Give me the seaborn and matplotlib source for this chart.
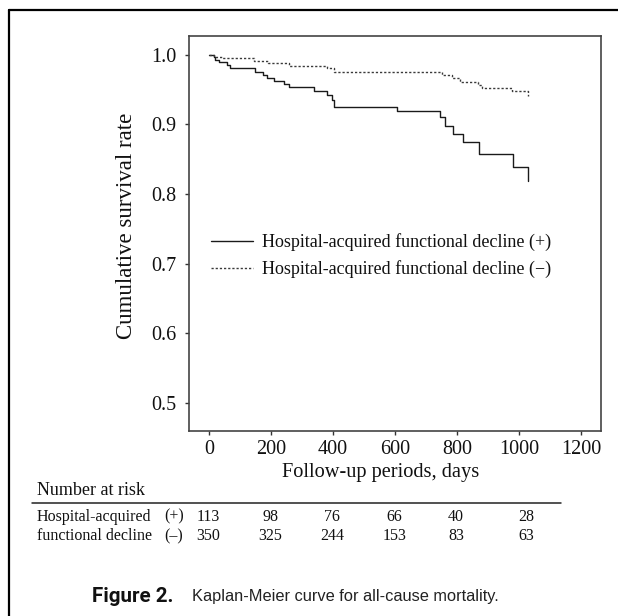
import numpy as np
import pandas as pd
import matplotlib
matplotlib.use("Agg")
import matplotlib.pyplot as plt
from matplotlib.lines import Line2D
import seaborn as sns

# ---------------- data ----------------
group_labels = ["Hospital-acquired functional decline (+)",
                "Hospital-acquired functional decline (\u2212)"]

days_pos = [0, 14, 19, 30, 57, 68, 148, 175, 188, 210, 242, 256, 337, 380, 396,
            403, 605, 745, 761, 786, 820, 872, 980, 1030]
surv_pos = [1.0, 0.997, 0.992, 0.989, 0.985, 0.980, 0.9756, 0.971, 0.967, 0.962,
            0.9575, 0.953, 0.948, 0.942, 0.935, 0.9245, 0.919, 0.910, 0.898,
            0.886, 0.874, 0.858, 0.838, 0.818]

days_neg = [0, 14, 41, 143, 191, 256, 380, 403, 751, 783, 810, 869, 880, 976, 1030]
surv_neg = [1.0, 0.997, 0.995, 0.991, 0.9877, 0.984, 0.980, 0.9756, 0.971, 0.966,
            0.961, 0.9565, 0.9527, 0.947, 0.940]

x_ticks = [0, 200, 400, 600, 800, 1000, 1200]
y_ticks = [0.5, 0.6, 0.7, 0.8, 0.9, 1.0]

risk_times = [0, 200, 400, 600, 800, 1000]
risk_pos = [113, 98, 76, 66, 40, 28]
risk_neg = [350, 325, 244, 153, 83, 63]
risk_row_labels = ["Hospital-acquired", "functional decline"]
risk_row_signs = ["(+)", "(\u2013)"]

# ---------------- style ----------------
sns.set_style("ticks")
plt.rcParams["font.family"] = ["Liberation Serif", "DejaVu Serif"]
plt.rcParams["mathtext.fontset"] = "stix"

W, H = 618, 616
fig = plt.figure(figsize=(W / 100, H / 100), dpi=100)
fig.patch.set_facecolor("white")

def fx(px):
    return px / W

def fy(py):
    return 1 - py / H

ax_l, ax_r, ax_t, ax_b = 188.5, 601, 35.7, 431
ax = fig.add_axes([fx(ax_l), fy(ax_b), fx(ax_r - ax_l), (ax_b - ax_t) / H])

df = pd.concat([
    pd.DataFrame({"day": days_pos, "surv": surv_pos, "group": group_labels[0]}),
    pd.DataFrame({"day": days_neg, "surv": surv_neg, "group": group_labels[1]}),
], ignore_index=True)

sns.lineplot(data=df, x="day", y="surv", hue="group", style="group",
             palette=["#1a1a1a", "#3a3a3a"],
             dashes={group_labels[0]: "", group_labels[1]: (1.6, 1.4)},
             drawstyle="steps-post", estimator=None, sort=False,
             linewidth=1.0, ax=ax, legend=False)

ax.set_xlim(-67, 1265)
ax.set_ylim(0.46, 1.027)
ax.set_xticks(x_ticks)
ax.set_yticks(y_ticks)
ax.set_xticklabels([str(v) for v in x_ticks])
ax.set_yticklabels([f"{v:.1f}" for v in y_ticks])
ax.tick_params(axis="both", direction="out", length=3.2, width=1.0,
               color="#333333", labelsize=14.5, labelcolor="#111111")
ax.tick_params(axis="y", pad=5.8)
ax.tick_params(axis="x", pad=3.5)
for sp in ax.spines.values():
    sp.set_visible(True)
    sp.set_color("#444444")
    sp.set_linewidth(1.2)

ax.set_xlabel("Follow-up periods, days", fontsize=14.7, color="#111111")
ax.xaxis.label.set_va("center")
ax.xaxis.set_label_coords((381 - ax_l) / (ax_r - ax_l), (ax_b - 473) / (ax_b - ax_t))
ax.set_ylabel("Cumulative survival rate", fontsize=16.5, color="#111111")
ax.yaxis.label.set_va("center")
ax.yaxis.set_label_coords((126.7 - ax_l) / (ax_r - ax_l), (ax_b - 225.8) / (ax_b - ax_t))

handles = [Line2D([], [], color="#1a1a1a", linewidth=1.0, linestyle="-"),
           Line2D([], [], color="#3a3a3a", linewidth=1.0, linestyle=(0, (1.6, 1.4)))]
leg = ax.legend(handles, group_labels, loc="center left",
                bbox_to_anchor=((210.7 - ax_l) / (ax_r - ax_l), (ax_b - 255.5) / (ax_b - ax_t)),
                frameon=False, fontsize=13, handlelength=2.35, handletextpad=0.5,
                labelspacing=0.5, borderpad=0, borderaxespad=0)
for t in leg.get_texts():
    t.set_color("#111111")

# ---------------- risk table ----------------
fig.text(fx(36.7), fy(490.5), "Number at risk", fontsize=13, ha="left", va="center",
         color="#111111")
fig.add_artist(Line2D([fx(31.7), fx(561)], [fy(502.5), fy(502.5)],
                      transform=fig.transFigure, color="#222222", linewidth=1.1))
row_y = [516.7, 536.3]
for r, (lab, sign, vals) in enumerate(zip(risk_row_labels, risk_row_signs,
                                          [risk_pos, risk_neg])):
    fig.text(fx(36.7), fy(row_y[r]), lab, fontsize=11.5, ha="left", va="center",
             color="#111111")
    fig.text(fx(164), fy(row_y[r]), sign, fontsize=11.5, ha="left", va="center",
             color="#111111")
    for t, v in zip(risk_times, vals):
        xd = t if t < 1000 else 1026
        xpix = ax.transData.transform((xd, 0.5))[0]
        fig.text(xpix / W - 0.0015, fy(row_y[r]), str(v), fontsize=11.5,
                 ha="center", va="center", color="#111111")

# ---------------- caption & frame ----------------
fig.text(fx(91.7), fy(596.5), "Figure 2.", fontsize=14.8, fontweight="bold",
         family=["Liberation Sans Narrow", "Roboto", "DejaVu Sans"],
         ha="left", va="center", color="#111111")
fig.text(fx(192), fy(596.5), "Kaplan-Meier curve for all-cause mortality.",
         fontsize=11.8, family=["Liberation Sans", "DejaVu Sans"],
         ha="left", va="center", color="#222222")

fig.add_artist(Line2D([fx(8.5), fx(618)], [fy(10), fy(10)],
                      transform=fig.transFigure, color="black", linewidth=1.6))
fig.add_artist(Line2D([fx(8.5), fx(8.5)], [fy(10), fy(616)],
                      transform=fig.transFigure, color="black", linewidth=1.6))

fig.savefig("out.png", dpi=100, facecolor="white")
